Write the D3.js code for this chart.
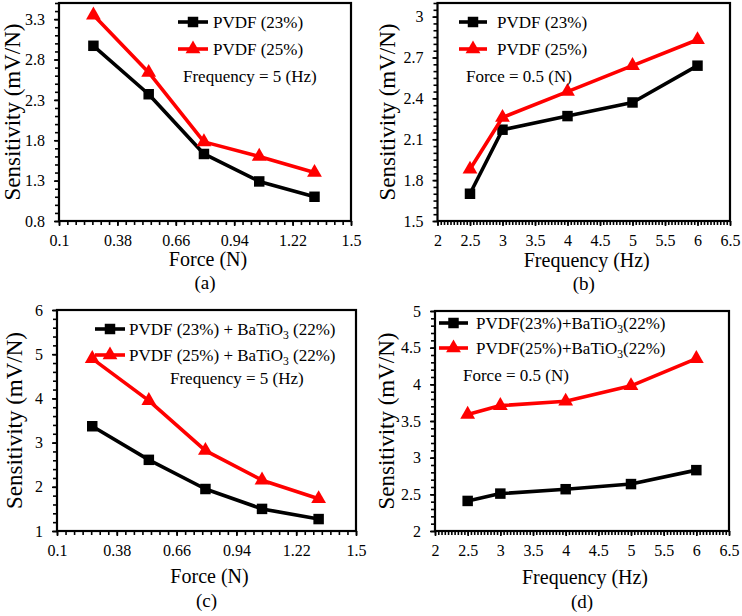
<!DOCTYPE html>
<html><head><meta charset="utf-8">
<script src="https://cdn.jsdelivr.net/npm/d3@7"></script>
<style>
html,body{margin:0;padding:0;background:#fff;}
svg text{font-family:"Liberation Serif","Times New Roman",serif;}
</style></head>
<body>
<svg id="chart" width="742" height="616"></svg>
<script>
// ---- data ----
const forceN = [0.265, 0.53, 0.795, 1.06, 1.325];
const freqHz = [2.5, 3, 4, 5, 6];
const sensA23 = [2.97, 2.37, 1.63, 1.29, 1.10];
const sensA25 = [3.35, 2.64, 1.78, 1.60, 1.40];
const sensB23 = [1.70, 2.17, 2.27, 2.37, 2.64];
const sensB25 = [1.88, 2.26, 2.45, 2.64, 2.83];
const sensC23 = [3.37, 2.61, 1.95, 1.50, 1.27];
const sensC25 = [4.90, 3.95, 2.82, 2.15, 1.73];
const sensD23 = [2.41, 2.51, 2.57, 2.64, 2.83];
const sensD25 = [3.59, 3.71, 3.77, 3.98, 4.35];
const forceTicks = [0.1, 0.38, 0.66, 0.94, 1.22, 1.5];
const freqTicks = [2, 2.5, 3, 3.5, 4, 4.5, 5, 5.5, 6, 6.5];
const yTicksA = [0.8, 1.3, 1.8, 2.3, 2.8, 3.3];
const yTicksB = [1.5, 1.8, 2.1, 2.4, 2.7, 3];
const yTicksC = [1, 2, 3, 4, 5, 6];
const yTicksD = [2, 2.5, 3, 3.5, 4, 4.5, 5];

const FONT = "Liberation Serif, Times New Roman, serif";
const svg = d3.select("#chart");

function legendLabel(sel, parts) {
  parts.forEach(p => {
    const t = sel.append("tspan").text(p.t);
    if (p.sub) t.attr("font-size", "0.68em").attr("dy", 4);
    else if (p.after) t.attr("dy", -4);
  });
}

function panel(cfg) {
  const g = svg.append("g").attr("font-family", FONT);
  const x = d3.scaleLinear().domain(cfg.xDomain).range([cfg.left, cfg.right]);
  const y = d3.scaleLinear().domain(cfg.yDomain).range([cfg.bottom, cfg.top]);

  const xMinor = d3.range(cfg.xDomain[0], cfg.xDomain[1] + 1e-9, cfg.xMinor);
  const yMinor = d3.range(cfg.yDomain[0], cfg.yDomain[1] + 1e-9, cfg.yMinor);
  g.append("g").attr("transform", `translate(0,${cfg.bottom})`)
    .call(d3.axisBottom(x).tickValues(xMinor).tickSize(4).tickFormat(""))
    .call(a => a.select(".domain").remove())
    .call(a => a.selectAll("line").attr("stroke", "#000").attr("stroke-width", 1.6));
  g.append("g").attr("transform", `translate(${cfg.left},0)`)
    .call(d3.axisLeft(y).tickValues(yMinor).tickSize(4).tickFormat(""))
    .call(a => a.select(".domain").remove())
    .call(a => a.selectAll("line").attr("stroke", "#000").attr("stroke-width", 1.6));

  g.append("g").attr("transform", `translate(0,${cfg.bottom})`)
    .call(d3.axisBottom(x).tickValues(cfg.xTicks).tickSize(5).tickPadding(9).tickFormat(d => String(d)))
    .attr("font-family", FONT)
    .call(a => a.select(".domain").remove())
    .call(a => a.selectAll("line").attr("stroke", "#000").attr("stroke-width", 1.6))
    .call(a => a.selectAll("text").attr("font-size", 16).attr("fill", "#000").attr("font-family", FONT));
  g.append("g").attr("transform", `translate(${cfg.left},0)`)
    .call(d3.axisLeft(y).tickValues(cfg.yTicks).tickSize(5).tickPadding(9).tickFormat(d => String(d)))
    .attr("font-family", FONT)
    .call(a => a.select(".domain").remove())
    .call(a => a.selectAll("line").attr("stroke", "#000").attr("stroke-width", 1.6))
    .call(a => a.selectAll("text").attr("font-size", 16).attr("fill", "#000").attr("font-family", FONT));

  g.append("rect").attr("x", cfg.left).attr("y", cfg.top)
    .attr("width", cfg.right - cfg.left).attr("height", cfg.bottom - cfg.top)
    .attr("fill", "none").attr("stroke", "#000").attr("stroke-width", 2.2);

  const line = d3.line().x(d => x(d[0])).y(d => y(d[1]));
  const series = [
    { xs: cfg.xs, ys: cfg.y23, color: "#000", sym: d3.symbolSquare, size: 110 },
    { xs: cfg.xs, ys: cfg.y25, color: "#ff0000", sym: d3.symbolTriangle, size: 95 }
  ];
  series.forEach(s => {
    const pts = s.xs.map((v, i) => [v, s.ys[i]]);
    g.append("path").attr("d", line(pts)).attr("fill", "none")
      .attr("stroke", s.color).attr("stroke-width", 3.6).attr("stroke-linejoin", "round");
    g.selectAll(null).data(pts).enter().append("path")
      .attr("d", d3.symbol().type(s.sym).size(s.size))
      .attr("transform", d => `translate(${x(d[0])},${y(d[1])})`)
      .attr("fill", s.color);
  });

  cfg.legend.forEach((L, i) => {
    const s = series[i];
    const ly = L.y;
    g.append("line").attr("x1", L.x1).attr("x2", L.x2).attr("y1", ly).attr("y2", ly)
      .attr("stroke", s.color).attr("stroke-width", 3.6);
    g.append("path").attr("d", d3.symbol().type(s.sym).size(s.size))
      .attr("transform", `translate(${(L.x1 + L.x2) / 2},${ly})`).attr("fill", s.color);
    const t = g.append("text").attr("x", L.tx).attr("y", ly + 6).attr("font-family", FONT)
      .attr("font-size", cfg.legendSize).attr("fill", "#000");
    legendLabel(t, L.parts);
  });
  g.append("text").attr("x", cfg.note.x).attr("y", cfg.note.y).attr("font-family", FONT)
    .attr("font-size", 17).attr("fill", "#000").text(cfg.note.text);

  g.append("text").attr("x", (cfg.left + cfg.right) / 2 + 3).attr("y", cfg.xTitleY).attr("font-family", FONT)
    .attr("text-anchor", "middle").attr("font-size", 20).attr("fill", "#000").text(cfg.xTitle);
  g.append("text").attr("font-family", FONT)
    .attr("transform", `translate(${cfg.left - cfg.yTitleOff},${(cfg.top + cfg.bottom) / 2}) rotate(-90)`)
    .attr("text-anchor", "middle").attr("font-size", 23).attr("fill", "#000").text("Sensitivity (mV/N)");
  g.append("text").attr("x", (cfg.left + cfg.right) / 2).attr("y", cfg.capY).attr("font-family", FONT)
    .attr("text-anchor", "middle").attr("font-size", 19).attr("fill", "#000").text(cfg.caption);
}

panel({
  left: 59, right: 351, top: 3, bottom: 221,
  xDomain: [0.1, 1.5], yDomain: [0.8, 3.5], xTicks: forceTicks, yTicks: yTicksA,
  xMinor: 0.04, yMinor: 0.1, xs: forceN, y23: sensA23, y25: sensA25,
  legendSize: 17,
  legend: [
    { x1: 178, x2: 208, tx: 213, y: 22, parts: [{ t: "PVDF (23%)" }] },
    { x1: 178, x2: 208, tx: 213, y: 49, parts: [{ t: "PVDF (25%)" }] }
  ],
  note: { x: 183, y: 82, text: "Frequency = 5 (Hz)" },
  xTitle: "Force (N)", xTitleY: 266, yTitleOff: 39, caption: "(a)", capY: 289
});
panel({
  left: 437.5, right: 730, top: 3, bottom: 221,
  xDomain: [2, 6.5], yDomain: [1.5, 3.1], xTicks: freqTicks, yTicks: yTicksB,
  xMinor: 0.05, yMinor: 0.05, xs: freqHz, y23: sensB23, y25: sensB25,
  legendSize: 17,
  legend: [
    { x1: 459, x2: 487, tx: 497, y: 22, parts: [{ t: "PVDF (23%)" }] },
    { x1: 459, x2: 487, tx: 497, y: 49, parts: [{ t: "PVDF (25%)" }] }
  ],
  note: { x: 466, y: 82, text: "Force = 0.5 (N)" },
  xTitle: "Frequency (Hz)", xTitleY: 267, yTitleOff: 42.5, caption: "(b)", capY: 290
});
panel({
  left: 57, right: 356, top: 310, bottom: 531,
  xDomain: [0.1, 1.5], yDomain: [1, 6], xTicks: forceTicks, yTicks: yTicksC,
  xMinor: 0.04, yMinor: 0.2, xs: forceN, y23: sensC23, y25: sensC25,
  legendSize: 17,
  legend: [
    { x1: 95, x2: 125, tx: 129, y: 329, parts: [{ t: "PVDF (23%) + BaTiO" }, { t: "3", sub: true }, { t: " (22%)", after: true }] },
    { x1: 95, x2: 125, tx: 129, y: 355, parts: [{ t: "PVDF (25%) + BaTiO" }, { t: "3", sub: true }, { t: " (22%)", after: true }] }
  ],
  note: { x: 170, y: 384, text: "Frequency = 5 (Hz)" },
  xTitle: "Force (N)", xTitleY: 583, yTitleOff: 35, caption: "(c)", capY: 607
});
panel({
  left: 435, right: 729, top: 311, bottom: 531,
  xDomain: [2, 6.5], yDomain: [2, 5], xTicks: freqTicks, yTicks: yTicksD,
  xMinor: 0.05, yMinor: 0.1, xs: freqHz, y23: sensD23, y25: sensD25,
  legendSize: 17,
  legend: [
    { x1: 439, x2: 468, tx: 476, y: 323, parts: [{ t: "PVDF(23%)+BaTiO" }, { t: "3", sub: true }, { t: "(22%)", after: true }] },
    { x1: 439, x2: 468, tx: 476, y: 348, parts: [{ t: "PVDF(25%)+BaTiO" }, { t: "3", sub: true }, { t: "(22%)", after: true }] }
  ],
  note: { x: 463, y: 381, text: "Force = 0.5 (N)" },
  xTitle: "Frequency (Hz)", xTitleY: 584, yTitleOff: 41, caption: "(d)", capY: 608
});
</script>
</body></html>
